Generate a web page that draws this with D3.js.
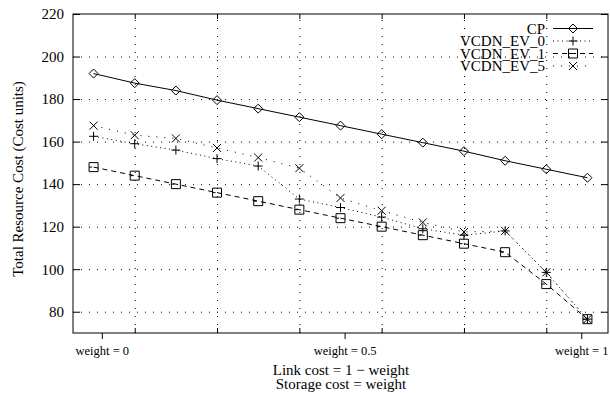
<!DOCTYPE html>
<html>
<head>
<meta charset="utf-8">
<script src="https://cdn.jsdelivr.net/npm/d3@7"></script>
<style>
  body { margin: 0; background: #fff; }
  svg { display: block; font-family: "Liberation Serif", "DejaVu Serif", serif; }
  .grid line { stroke: #000; stroke-dasharray: 1,7; }
</style>
</head>
<body>
<div id="chart"></div>
<script>
// x positions of the 13 measurement points
const points = [1, 2, 3, 4, 5, 6, 7, 8, 9, 10, 11, 12, 13];

const cp      = [192, 187.5, 184, 179.5, 175.5, 171.5, 167.5, 163.5, 159.5, 155.5, 151, 147, 143];
const vcdnEv0 = [162.5, 159, 156, 152, 148.5, 133, 129, 124.5, 119, 116, 118, 98.5, 76.5];
const vcdnEv1 = [148, 144, 140, 136, 132, 128, 124, 120, 116, 112, 108, 93, 76.5];
const vcdnEv5 = [167.5, 163, 161.5, 157, 152.5, 147.5, 133.5, 127.5, 122, 117.5, 118, 98.5, 76.5];

const yTicks = [80, 100, 120, 140, 160, 180, 200, 220];
const xGridTicks = [2, 4, 6, 8, 10, 12];
const weightTicks = [1.2, 7.1, 12.85];
const weightLabels = ['weight = 0', 'weight = 0.5', 'weight = 1'];

const series = [
  { name: 'CP', values: cp, dash: null, marker: 'diamond' },
  { name: 'VCDN_EV_0', values: vcdnEv0, dash: '1,3.5', marker: 'plus' },
  { name: 'VCDN_EV_1', values: vcdnEv1, dash: '5,4', marker: 'square' },
  { name: 'VCDN_EV_5', values: vcdnEv5, dash: '1,7', marker: 'cross' }
];

const W = 610, H = 393;
const margin = { top: 14, right: 2, bottom: 60, left: 73 };
const width = W - margin.left - margin.right;
const height = H - margin.top - margin.bottom;

const svg = d3.select('#chart').append('svg')
  .attr('width', W)
  .attr('height', H);

const g = svg.append('g')
  .attr('transform', 'translate(' + margin.left + ',' + margin.top + ')');

const x = d3.scaleLinear().domain([0.5, 13.5]).range([0, width]);
const y = d3.scaleLinear().domain([70, 220]).range([height, 0]);

// dotted grid
g.append('g').attr('class', 'grid')
  .call(d3.axisLeft(y).tickValues(yTicks.slice(0, -1)).tickSize(-width).tickFormat(''))
  .call(s => s.select('.domain').remove());
g.append('g').attr('class', 'grid')
  .attr('transform', 'translate(0,' + height + ')')
  .call(d3.axisBottom(x).tickValues(xGridTicks).tickSize(-height).tickFormat(''))
  .call(s => s.select('.domain').remove());

// inward ticks on all sides
const tickStyle = s => {
  s.select('.domain').remove();
  s.selectAll('line').attr('stroke', '#000');
};
g.append('g')
  .call(d3.axisLeft(y).tickValues(yTicks).tickSize(-7).tickPadding(9))
  .call(tickStyle)
  .call(s => s.selectAll('text')
    .style('font-family', '"Liberation Serif", serif')
    .style('font-size', '15px')
    .attr('fill', '#000'));
g.append('g')
  .attr('transform', 'translate(' + width + ',0)')
  .call(d3.axisRight(y).tickValues(yTicks).tickSize(-7).tickFormat(''))
  .call(tickStyle);
g.append('g')
  .attr('transform', 'translate(0,' + height + ')')
  .call(d3.axisBottom(x).tickValues(xGridTicks).tickSize(-5).tickFormat(''))
  .call(tickStyle);
g.append('g')
  .call(d3.axisTop(x).tickValues(xGridTicks).tickSize(-5).tickFormat(''))
  .call(tickStyle);

// weight labels below the axis
g.append('g')
  .attr('transform', 'translate(0,' + height + ')')
  .call(d3.axisBottom(x).tickValues(weightTicks).tickSize(6).tickPadding(7)
    .tickFormat((d, i) => weightLabels[i]))
  .call(tickStyle)
  .call(s => s.selectAll('text')
    .style('font-family', '"Liberation Serif", serif')
    .style('font-size', '12.5px')
    .attr('fill', '#000'));

// frame
g.append('rect')
  .attr('width', width)
  .attr('height', height)
  .attr('fill', 'none')
  .attr('stroke', '#000');

// markers
function drawMarker(sel, type) {
  if (type === 'diamond') {
    sel.append('path').attr('d', 'M0,-4.5L4.5,0L0,4.5L-4.5,0Z');
  } else if (type === 'plus') {
    sel.append('path').attr('d', 'M-4.5,0H4.5M0,-4.5V4.5');
  } else if (type === 'square') {
    sel.append('path').attr('d', 'M-4.5,-4.5H4.5V4.5H-4.5ZM-4.5,0H-1.5');
  } else {
    sel.append('path').attr('d', 'M-4,-4L4,4M-4,4L4,-4');
  }
}

const line = d3.line()
  .x((d, i) => x(points[i]))
  .y(d => y(d));

series.forEach(s => {
  g.append('path')
    .datum(s.values)
    .attr('fill', 'none')
    .attr('stroke', '#000')
    .attr('stroke-width', 1)
    .attr('stroke-dasharray', s.dash)
    .attr('d', line);

  g.append('g').selectAll('g')
    .data(s.values)
    .join('g')
    .attr('transform', (d, i) => 'translate(' + x(points[i]) + ',' + y(d) + ')')
    .attr('fill', 'none')
    .attr('stroke', '#000')
    .each(function () { drawMarker(d3.select(this), s.marker); });
});

// legend
const legend = svg.append('g').attr('transform', 'translate(545,28.5)');
series.forEach((s, i) => {
  const row = legend.append('g').attr('transform', 'translate(0,' + i * 12.5 + ')');
  row.append('text')
    .attr('text-anchor', 'end')
    .attr('dy', '0.35em')
    .style('font-size', '15px')
    .text(s.name);
  row.append('line')
    .attr('x1', 8).attr('x2', 48)
    .attr('stroke', '#000')
    .attr('stroke-dasharray', s.dash);
  const m = row.append('g')
    .attr('transform', 'translate(28,0)')
    .attr('fill', 'none')
    .attr('stroke', '#000');
  drawMarker(m, s.marker);
});

// axis titles
svg.append('text')
  .attr('transform', 'translate(18,179) rotate(-90)')
  .attr('text-anchor', 'middle')
  .attr('dy', '0.35em')
  .style('font-size', '15px')
  .text('Total Resource Cost (Cost units)');

svg.append('text')
  .attr('x', 341).attr('y', 370)
  .attr('text-anchor', 'middle')
  .attr('dy', '0.35em')
  .style('font-size', '15px')
  .text('Link cost = 1 \u2212 weight');

svg.append('text')
  .attr('x', 341).attr('y', 384)
  .attr('text-anchor', 'middle')
  .attr('dy', '0.35em')
  .style('font-size', '15px')
  .text('Storage cost = weight');
</script>
</body>
</html>
